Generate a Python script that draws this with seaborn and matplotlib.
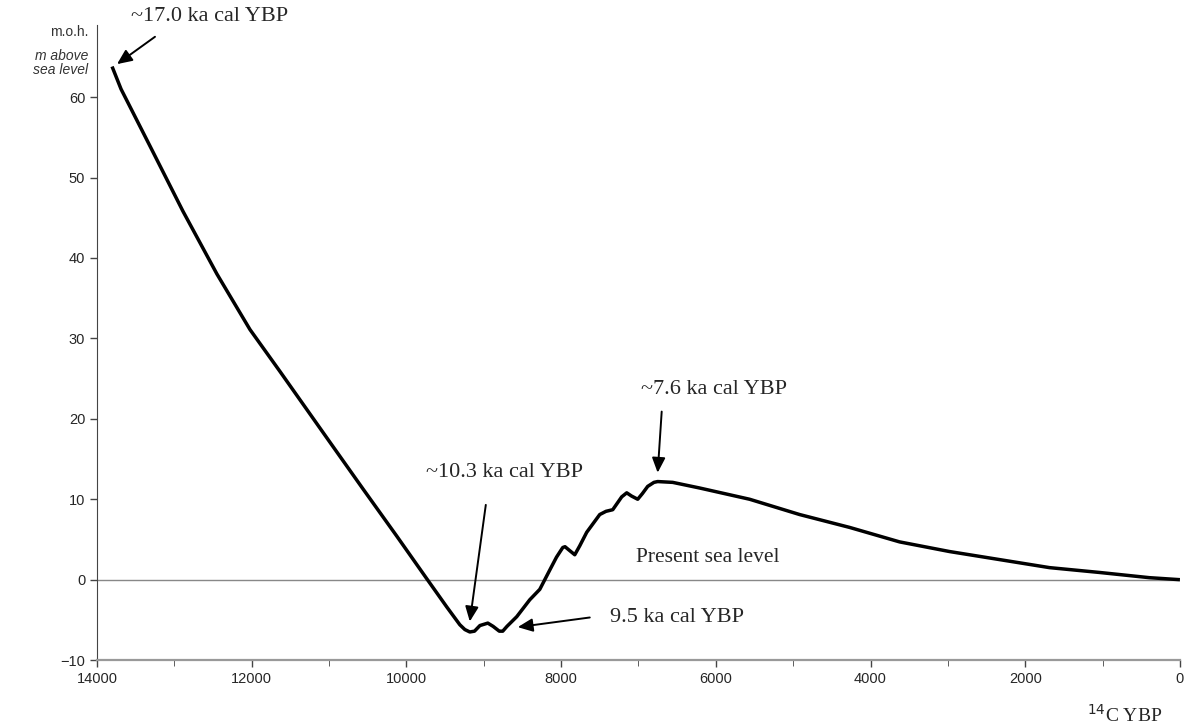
import pandas as pd
import matplotlib
matplotlib.use("Agg")
import matplotlib.pyplot as plt
import seaborn as sns

# ------------------------------
# Data (14C years BP, m above sea level)
# ------------------------------
age_bp = [13806, 13690, 13315, 12889, 12450, 12023, 11636, 10990,
          10563, 10124, 9736, 9478, 9310, 9245, 9181, 9120, 9050,
          8948, 8880, 8800, 8755, 8700, 8574, 8406, 8276, 8147, 8060, 7979,
          7950, 7900, 7824, 7760, 7669, 7501, 7420, 7333, 7217, 7152, 7090,
          7010, 6950, 6881, 6800, 6752, 6558, 6210, 5563, 4917, 4271, 3625,
          2979, 2333, 1687, 1041, 395, 0]
sea_level = [63.8, 61.0, 53.9, 45.8, 38.0, 31.1, 25.9, 17.1,
             11.3, 5.4, 0.1, -3.4, -5.6, -6.2, -6.5, -6.4, -5.7,
             -5.4, -5.8, -6.4, -6.4, -5.8, -4.6, -2.5, -1.2, 1.2, 2.8, 4.0,
             4.1, 3.7, 3.1, 4.2, 5.9, 8.1, 8.5, 8.7, 10.3, 10.8, 10.4,
             10.0, 10.7, 11.6, 12.1, 12.2, 12.1, 11.4, 10.0, 8.1, 6.5, 4.7,
             3.5, 2.5, 1.5, 0.9, 0.25, 0.0]

curve_df = pd.DataFrame({"age": age_bp, "level": sea_level})

y_ticks = [-10, 0, 10, 20, 30, 40, 50, 60]
x_major = [14000, 12000, 10000, 8000, 6000, 4000, 2000, 0]
x_minor = [13000, 11000, 9000, 7000, 5000, 3000, 1000]
x_labels = ["14000", "12000", "10000", "8000", "6000", "4000", "2000", "0"]

# ------------------------------
# Plot
# ------------------------------
sns.set_style("ticks")
plt.rcParams["font.family"] = ["Liberation Sans", "DejaVu Sans"]

fig = plt.figure(figsize=(11.88, 7.27), dpi=100)
ax = fig.add_axes([0.0817, 0.092, 0.9115, 0.874])

ax.axhline(0, color="#888888", lw=1.0, zorder=1)
sns.lineplot(data=curve_df, x="age", y="level", color="black", lw=2.5,
             sort=False, ax=ax, zorder=3, solid_joinstyle="round",
             solid_capstyle="butt")

ax.set_xlim(14000, 0)
ax.set_ylim(-10, 69)
ax.set_yticks(y_ticks)
ax.set_xticks(x_major)
ax.set_xticklabels(x_labels)
ax.set_xticks(x_minor, minor=True)
ax.tick_params(axis="both", labelsize=10.5, color="#444444", width=1, length=5)
ax.tick_params(axis="x", which="minor", length=4, color="#444444")
ax.set_xlabel("")
ax.set_ylabel("")
sns.despine(ax=ax)
ax.spines["left"].set_color("#444444")
ax.spines["bottom"].set_color("#999999")
ax.spines["bottom"].set_linewidth(1.6)

# y axis caption
ax.text(-0.008, 0.989, "m.o.h.", transform=ax.transAxes, ha="right", va="center",
        fontsize=10, color="#333333")
ax.text(-0.008, 0.94, "m above\nsea level", transform=ax.transAxes, ha="right",
        va="center", fontsize=10, style="italic", color="#333333", linespacing=1.05)

# annotations: text and arrows placed separately
serif = ["Liberation Serif", "DejaVu Serif"]
arrow = dict(arrowstyle="-|>,head_length=0.9,head_width=0.4", color="black",
             lw=1.4, shrinkA=0, shrinkB=0)

ax.text(12540, 70.0, "~17.0 ka cal YBP", fontsize=16, family=serif,
        ha="center", va="center", clip_on=False)
ax.annotate("", xy=(13742, 64.1), xytext=(13251, 67.5), arrowprops=arrow)

ax.text(8729, 13.3, "~10.3 ka cal YBP", fontsize=16, family=serif,
        ha="center", va="center")
ax.annotate("", xy=(9181, -5.2), xytext=(8974, 9.3), arrowprops=arrow)

ax.text(6028, 23.7, "~7.6 ka cal YBP", fontsize=16, family=serif,
        ha="center", va="center")
ax.annotate("", xy=(6752, 13.3), xytext=(6700, 20.9), arrowprops=arrow)

ax.text(7372, -4.7, "9.5 ka cal YBP", fontsize=16, family=serif,
        ha="left", va="center")
ax.annotate("", xy=(8561, -5.9), xytext=(7630, -4.7), arrowprops=arrow)

ax.text(6106, 2.8, "Present sea level", fontsize=15.5, family=serif,
        ha="center", va="center")
ax.text(718, -16.8, "$^{14}$C YBP", fontsize=14, family=serif,
        ha="center", va="center", clip_on=False)

fig.savefig("out.png", dpi=100)
